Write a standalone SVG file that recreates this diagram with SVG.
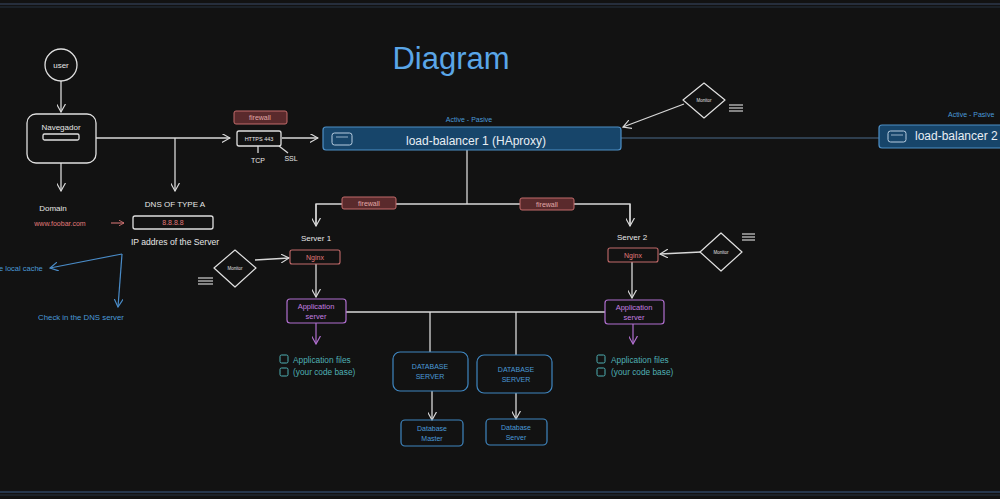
<svg xmlns="http://www.w3.org/2000/svg" width="1000" height="499" viewBox="0 0 1000 499">
<defs>
<style>
text{font-family:"Liberation Sans",Arial,sans-serif;}
.w{fill:#e6e6e6;font-size:8px;text-anchor:middle;}
.ln{stroke:#d8d8d8;stroke-width:1.3;fill:none;}
.bl{stroke:#4a8cc8;stroke-width:1.2;fill:none;}
.box{fill:none;stroke:#e0e0e0;stroke-width:1.3;}
.red{fill:#5a2a2c;stroke:#c26a6a;stroke-width:1;}
.redt{fill:#e07a7a;font-size:7px;text-anchor:middle;}
.ft{fill:#e2a8a8;font-size:7px;text-anchor:middle;}
.lb{fill:#17456a;stroke:#4d8fc6;stroke-width:1.2;}
.lbt{fill:#e8eef4;font-size:12px;text-anchor:middle;}
.bt{fill:#4a9ad8;font-size:7px;text-anchor:middle;}
.st{text-anchor:start;}
.db{fill:none;stroke:#3f86c0;stroke-width:1.2;}
.pur{fill:none;stroke:#b06fcf;stroke-width:1.2;}
.purt{fill:#c47fe0;font-size:7.5px;text-anchor:middle;}
.teal{fill:#4fb0b4;font-size:8.3px;}
.cb{fill:none;stroke:#4fb0b4;stroke-width:1;}
.mon{fill:none;stroke:#e0e0e0;stroke-width:1.2;}
.mont{fill:#e0e0e0;font-size:4.5px;text-anchor:middle;}
.hb{stroke:#d0d0d0;stroke-width:1.2;}
</style>
<marker id="aw" viewBox="0 0 10 10" refX="9" refY="5" markerWidth="9" markerHeight="9" orient="auto" markerUnits="userSpaceOnUse"><path d="M0,0 L9,5 L0,10" fill="none" stroke="#d8d8d8" stroke-width="1.3"/></marker>
<marker id="ab" viewBox="0 0 10 10" refX="9" refY="5" markerWidth="9" markerHeight="9" orient="auto" markerUnits="userSpaceOnUse"><path d="M0,0 L9,5 L0,10" fill="none" stroke="#4a8cc8" stroke-width="1.3"/></marker>
<marker id="ap" viewBox="0 0 10 10" refX="9" refY="5" markerWidth="9" markerHeight="9" orient="auto" markerUnits="userSpaceOnUse"><path d="M0,0 L9,5 L0,10" fill="none" stroke="#b06fcf" stroke-width="1.3"/></marker>
<marker id="ar" viewBox="0 0 10 10" refX="9" refY="5" markerWidth="6" markerHeight="6" orient="auto" markerUnits="userSpaceOnUse"><path d="M0,0 L9,5 L0,10" fill="none" stroke="#e07a7a" stroke-width="1.3"/></marker>
</defs>
<rect width="1000" height="499" fill="#121212"/>
<line x1="0" y1="4" x2="1000" y2="4" stroke="#3a4a66" stroke-width="1"/>
<line x1="0" y1="7" x2="1000" y2="7" stroke="#24303f" stroke-width="1"/>
<line x1="0" y1="492" x2="1000" y2="492" stroke="#3a5a86" stroke-width="1"/>
<line x1="0" y1="495" x2="1000" y2="495" stroke="#24303f" stroke-width="1"/>

<text x="451" y="69" fill="#5aa6e8" font-size="31" text-anchor="middle">Diagram</text>

<g id="connectors">
<line class="ln" x1="61" y1="81" x2="61" y2="112" marker-end="url(#aw)"/>
<line class="ln" x1="61" y1="163" x2="61" y2="191" marker-end="url(#aw)"/>
<polyline class="ln" points="96,138 230,138" marker-end="url(#aw)"/>
<polyline class="ln" points="175,138 175,191" marker-end="url(#aw)"/>
<line x1="111" y1="223" x2="124" y2="223" stroke="#e07a7a" stroke-width="1" marker-end="url(#ar)"/>
<line class="bl" x1="122" y1="254" x2="50" y2="268" marker-end="url(#ab)"/>
<line class="bl" x1="122" y1="254" x2="118" y2="307" marker-end="url(#ab)"/>
<line class="ln" x1="258" y1="146" x2="258" y2="153"/>
<line class="ln" x1="279" y1="146" x2="288" y2="153"/>
<line class="ln" x1="282" y1="138" x2="318" y2="138" marker-end="url(#aw)"/>
<line x1="621" y1="138" x2="879" y2="138" stroke="#4a6a8a" stroke-width="1.2"/>
<line class="ln" x1="684" y1="104" x2="623" y2="127" marker-end="url(#aw)"/>
<polyline class="ln" points="467,150 467,204"/>
<polyline class="ln" points="316,226 316,204 630,204 630,226"/>
<line class="ln" x1="316" y1="204" x2="316" y2="226" marker-end="url(#aw)"/>
<line class="ln" x1="630" y1="204" x2="630" y2="226" marker-end="url(#aw)"/>
<line class="ln" x1="255" y1="260" x2="289" y2="258" marker-end="url(#aw)"/>
<line class="ln" x1="701" y1="252" x2="660" y2="254" marker-end="url(#aw)"/>
<line class="ln" x1="316" y1="264" x2="316" y2="297" marker-end="url(#aw)"/>
<line class="ln" x1="632" y1="262" x2="632" y2="298" marker-end="url(#aw)"/>
<line x1="316" y1="323" x2="316" y2="344" stroke="#b06fcf" stroke-width="1.2" marker-end="url(#ap)"/>
<line x1="633" y1="324" x2="633" y2="344" stroke="#b06fcf" stroke-width="1.2" marker-end="url(#ap)"/>
<line class="ln" x1="346" y1="312" x2="605" y2="312"/>
<line class="ln" x1="430" y1="312" x2="430" y2="352"/>
<line class="ln" x1="516" y1="312" x2="516" y2="355"/>
<line class="ln" x1="432" y1="391" x2="432" y2="420" marker-end="url(#aw)"/>
<line class="ln" x1="516" y1="393" x2="516" y2="419" marker-end="url(#aw)"/>
</g>

<g id="user">
<circle cx="61" cy="65" r="16" class="box"/>
<text x="61" y="68" class="w">user</text>
</g>
<g id="navegador">
<rect x="27" y="114" width="69" height="49" rx="9" class="box"/>
<text x="61" y="130" class="w">Navegador</text>
<rect x="43" y="134" width="36" height="6" rx="1.5" class="box" stroke-width="1"/>
</g>
<g id="domain">
<text x="53" y="211" class="w">Domain</text>
<text x="60" y="226" class="redt">www.foobar.com</text>
</g>
<g id="dns">
<text x="175" y="207" class="w">DNS OF TYPE A</text>
<rect x="133" y="216" width="80" height="13" rx="2" class="box"/>
<text x="173" y="225" class="redt">8.8.8.8</text>
<text x="175" y="245" class="w" style="font-size:8.6px">IP addres of the Server</text>
</g>
<g id="local-cache"><text x="-1" y="271" fill="#4a9ad8" font-size="7.5">e local cache</text></g>
<g id="dns-server"><text x="81" y="320" class="bt" style="font-size:7.8px">Check in the DNS server</text></g>

<g id="firewall-top">
<rect x="234" y="111" width="53" height="13" rx="2" class="red"/>
<text x="260" y="120" class="ft">firewall</text>
</g>
<g id="https">
<rect x="237" y="131" width="44" height="15" rx="2" class="box" stroke-width="1"/>
<text x="259" y="141" class="w" style="font-size:5.5px">HTTPS 443</text>
<text x="258" y="163" class="w" style="font-size:7px">TCP</text>
<text x="291" y="161" class="w" style="font-size:7px">SSL</text>
</g>

<g id="lb1">
<text x="469" y="122" class="bt">Active - Pasive</text>
<rect x="323" y="127" width="298" height="23" rx="3" class="lb"/>
<rect x="332" y="133" width="20" height="12" rx="2.5" fill="none" stroke="#b8cde0" stroke-width="1"/>
<line x1="336" y1="137" x2="348" y2="137" stroke="#b8cde0" stroke-width="0.8"/>
<text x="476" y="145" class="lbt">load-balancer 1 (HAproxy)</text>
</g>
<g id="lb2">
<text x="948" y="117" class="bt st">Active - Pasive</text>
<rect x="879" y="125" width="130" height="23" rx="3" class="lb"/>
<rect x="888" y="131" width="18" height="11" rx="2.5" fill="none" stroke="#b8cde0" stroke-width="1"/>
<line x1="891" y1="135" x2="903" y2="135" stroke="#b8cde0" stroke-width="0.8"/>
<text x="915" y="140" class="lbt st">load-balancer 2</text>
</g>

<g id="monitor-top">
<polygon points="704,83 725,100 704,118 683,100" class="mon" stroke-linejoin="round"/>
<text x="704" y="102" class="mont">Monitor</text>
<line x1="729" y1="105" x2="743" y2="105" class="hb"/>
<line x1="729" y1="108" x2="743" y2="108" class="hb"/>
<line x1="729" y1="111" x2="743" y2="111" class="hb"/>
</g>
<g id="monitor-left">
<polygon points="235,250 256,268 235,287 214,268" class="mon" stroke-linejoin="round"/>
<text x="235" y="270" class="mont">Monitor</text>
<line x1="198" y1="278" x2="213" y2="278" class="hb"/>
<line x1="198" y1="281" x2="213" y2="281" class="hb"/>
<line x1="198" y1="284" x2="213" y2="284" class="hb"/>
</g>
<g id="monitor-right">
<polygon points="721,233 742,252 721,271 700,252" class="mon" stroke-linejoin="round"/>
<text x="721" y="254" class="mont">Monitor</text>
<line x1="742" y1="234" x2="755" y2="234" class="hb"/>
<line x1="742" y1="237" x2="755" y2="237" class="hb"/>
<line x1="742" y1="240" x2="755" y2="240" class="hb"/>
</g>

<g id="firewall-1">
<rect x="342" y="197" width="54" height="12" rx="2" class="red"/>
<text x="369" y="205.5" class="ft">firewall</text>
</g>
<g id="firewall-2">
<rect x="520" y="198" width="54" height="12" rx="2" class="red"/>
<text x="547" y="206.5" class="ft">firewall</text>
</g>

<g id="server1">
<text x="316" y="241" class="w">Server 1</text>
<rect x="290" y="250" width="50" height="14" rx="2" fill="none" stroke="#c26a6a" stroke-width="1.1"/>
<text x="315" y="260" class="redt">Nginx</text>
</g>
<g id="server2">
<text x="632" y="240" class="w">Server 2</text>
<rect x="608" y="248" width="50" height="14" rx="2" fill="none" stroke="#c26a6a" stroke-width="1.1"/>
<text x="633" y="258" class="redt">Nginx</text>
</g>

<g id="app1">
<rect x="287" y="299" width="59" height="24" rx="3" class="pur"/>
<text x="316" y="309" class="purt">Application</text>
<text x="316" y="319" class="purt">server</text>
</g>
<g id="app2">
<rect x="605" y="300" width="59" height="24" rx="3" class="pur"/>
<text x="634" y="310" class="purt">Application</text>
<text x="634" y="320" class="purt">server</text>
</g>
<g id="files1">
<rect x="280" y="355" width="8" height="8" rx="1.5" class="cb"/>
<rect x="280" y="368" width="8" height="8" rx="1.5" class="cb"/>
<text x="293" y="363" class="teal">Application files</text>
<text x="293" y="375" class="teal">(your code base)</text>
</g>
<g id="files2">
<rect x="597" y="355" width="8" height="8" rx="1.5" class="cb"/>
<rect x="597" y="368" width="8" height="8" rx="1.5" class="cb"/>
<text x="611" y="363" class="teal">Application files</text>
<text x="611" y="375" class="teal">(your code base)</text>
</g>

<g id="db1">
<rect x="393" y="352" width="75" height="39" rx="7" class="db"/>
<text x="430" y="369" class="bt">DATABASE</text>
<text x="430" y="379" class="bt">SERVER</text>
</g>
<g id="db2">
<rect x="477" y="355" width="75" height="38" rx="7" class="db"/>
<text x="516" y="372" class="bt">DATABASE</text>
<text x="516" y="382" class="bt">SERVER</text>
</g>
<g id="db-master">
<rect x="401" y="420" width="62" height="26" rx="4" class="db"/>
<text x="432" y="431" class="bt">Database</text>
<text x="432" y="441" class="bt">Master</text>
</g>
<g id="db-server">
<rect x="486" y="419" width="61" height="26" rx="4" class="db"/>
<text x="516" y="430" class="bt">Database</text>
<text x="516" y="440" class="bt">Server</text>
</g>
</svg>
